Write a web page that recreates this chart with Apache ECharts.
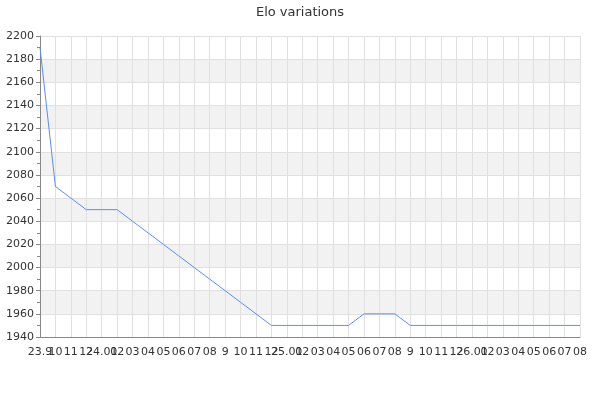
<!DOCTYPE html>
<html>
<head>
<meta charset="utf-8">
<script src="https://cdn.jsdelivr.net/npm/echarts@6/dist/echarts.min.js"></script>
<style>
  html, body { margin: 0; padding: 0; background: #fff; }
  #chart { width: 600px; height: 400px; }
</style>
</head>
<body>
<div id="chart"></div>
<script>
// month labels, as printed under the axis
const months = ['23.9', '10', '11', '12', '24.01', '02', '03', '04', '05', '06', '07', '08',
  '9', '10', '11', '12', '25.01', '02', '03', '04', '05', '06', '07', '08',
  '9', '10', '11', '12', '26.01', '02', '03', '04', '05', '06', '07', '08']

// elo at each month
const elo = [2190, 2070, 2060, 2050, 2050, 2050, 2040, 2030, 2020, 2010, 2000, 1990,
  1980, 1970, 1960, 1950, 1950, 1950, 1950, 1950, 1950, 1960, 1960, 1960,
  1950, 1950, 1950, 1950, 1950, 1950, 1950, 1950, 1950, 1950, 1950, 1950]

const yMin = 1940
const yMax = 2200
const yStep = 20

let myChart = echarts.init(document.getElementById('chart'))
let option = {
    animation: false,
    title: {
        text: 'Elo variations',
        left: 'center',
        top: 1,
        textStyle: { fontFamily: 'DejaVu Sans', fontSize: 13, fontWeight: 'normal', color: '#333' }
    },
    grid: { left: 40, right: 20, top: 36, bottom: 63 },
    xAxis: {
        type: 'category',
        data: months,
        boundaryGap: false,
        axisLine: { lineStyle: { color: '#888' } },
        axisTick: { show: false },
        axisLabel: { interval: 0, color: '#333', fontFamily: 'DejaVu Sans', fontSize: 11, margin: 10 },
        splitLine: { show: true, interval: 0, lineStyle: { color: '#e0e0e0' } }
    },
    yAxis: {
        type: 'value',
        min: yMin,
        max: yMax,
        interval: yStep,
        axisLine: { show: true, lineStyle: { color: '#888' } },
        axisTick: { show: true, length: 4, lineStyle: { color: '#888' } },
        minorTick: { show: true, splitNumber: 2, length: 3, lineStyle: { color: '#888' } },
        axisLabel: { color: '#333', fontFamily: 'DejaVu Sans', fontSize: 11, margin: 6, formatter: v => String(v) },
        splitLine: { lineStyle: { color: '#e0e0e0' } },
        splitArea: { show: true, areaStyle: { color: ['#ffffff', '#f2f2f2'] } }
    },
    series: [{
        type: 'line',
        data: elo,
        showSymbol: false,
        lineStyle: { color: '#5b8ff0', width: 1 }
    }]
}
myChart.setOption(option)
</script>
</body>
</html>
